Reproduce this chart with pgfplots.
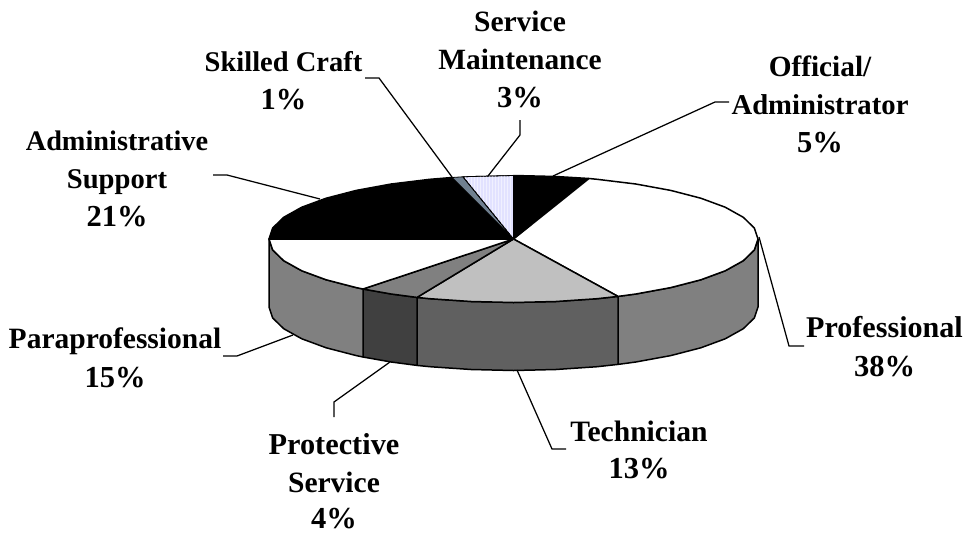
\documentclass[border=0pt]{standalone}
\usepackage{fontspec}
\setmainfont{Liberation Serif}
\usepackage{pgfplots}
\pgfplotsset{compat=1.18}
\usetikzlibrary{patterns}
\definecolor{slate}{RGB}{112,128,144}
\definecolor{lav}{RGB}{226,226,255}
\definecolor{lavlight}{RGB}{240,240,255}
\definecolor{g40}{RGB}{64,64,64}
\definecolor{g60}{RGB}{96,96,96}
\definecolor{g80}{RGB}{128,128,128}
\definecolor{gc0}{RGB}{192,192,192}
\tikzset{
  slice/.style={fill=#1, draw=black, line width=1.5pt, line join=round},
  lead/.style={draw=black, line width=1.25pt, line join=miter},
  lbl/.style={font=\fontsize{#1}{38}\selectfont\bfseries, anchor=base, inner sep=0pt},
  lbl/.default=30.5,
}
\begin{document}
\begin{tikzpicture}
\useasboundingbox (0,0) rectangle (965pt,533pt);
\begin{axis}[
  at={(0,0)}, anchor=south west,
  width=965pt, height=533pt, scale only axis,
  xmin=0, xmax=965, ymin=0, ymax=533,
  y dir=reverse, hide axis, clip=false,
]
% side walls
\addplot[slice=g80] coordinates {
  (758,239) (754.3,250) (743.3,260.7) (725.2,270.8) (700.8,279.8) (670.7,287.6) (635.8,294) (618,296.4)
  (618,364.4) (635.8,362) (670.7,355.6) (700.8,347.8) (725.2,338.8) (743.3,328.7) (754.3,318) (758,307) (758,239)};
\addplot[slice=g60] coordinates {
  (618,296.4) (597.1,298.7) (555.9,301.5) (513.5,302.5) (471.1,301.5) (429.9,298.7) (417,297.4)
  (417,365.4) (429.9,366.7) (471.1,369.5) (513.5,370.5) (555.9,369.5) (597.1,366.7) (618,364.4) (618,296.4)};
\addplot[slice=g40] coordinates {
  (417,297.4) (391.2,294) (363,289) (363,357) (391.2,362) (417,365.4) (417,297.4)};
\addplot[slice=g80] coordinates {
  (363,289) (356.3,287.6) (326.2,279.8) (301.8,270.8) (283.7,260.7) (272.7,250) (269,239)
  (269,307) (272.7,318) (283.7,328.7) (301.8,338.8) (326.2,347.8) (356.3,355.6) (363,357) (363,289)};
% top face
\addplot[slice=black] coordinates {
  (513.5,239) (513.5,175.5) (555.9,176.5) (589,178.5) (513.5,239)};
\addplot[slice=white] coordinates {
  (513.5,239) (589,178.5) (597.1,179.3) (635.8,184) (670.7,190.4) (700.8,198.2) (725.2,207.2) (743.3,217.3) (754.3,228)
  (758,239) (754.3,250) (743.3,260.7) (725.2,270.8) (700.8,279.8) (670.7,287.6) (635.8,294) (618,296.4) (513.5,239)};
\addplot[slice=gc0] coordinates {
  (513.5,239) (618,296.4) (597.1,298.7) (555.9,301.5) (513.5,302.5) (471.1,301.5) (429.9,298.7) (417,297.4) (513.5,239)};
\addplot[slice=g80] coordinates {
  (513.5,239) (417,297.4) (391.2,294) (363,289) (513.5,239)};
\addplot[slice=white] coordinates {
  (513.5,239) (363,289) (356.3,287.6) (326.2,279.8) (301.8,270.8) (283.7,260.7) (272.7,250) (269,239) (513.5,239)};
\addplot[slice=black] coordinates {
  (513.5,239) (269,239) (272.7,228) (283.7,217.3) (301.8,207.2) (326.2,198.2) (356.3,190.4) (391.2,184) (429.9,179.3) (452,177.5) (513.5,239)};
\addplot[slice=slate, line width=0.8pt] coordinates {
  (513.5,239) (452,177.5) (463,176.8) (513.5,239)};
\addplot[slice=lav, line width=0.8pt, postaction={pattern=vertical lines, pattern color=lavlight}] coordinates {
  (513.5,239) (463,176.8) (471.1,176.5) (513.5,175.5) (513.5,239)};
% leader lines
\addplot[lead] coordinates {(553,176) (715,102) (729,102)};
\addplot[lead] coordinates {(488,176) (520,135) (520,120)};
\addplot[lead] coordinates {(452,177) (379,78) (365,78)};
\addplot[lead] coordinates {(320,199) (227,175) (213,175)};
\addplot[lead] coordinates {(293,335) (237,356) (223,356)};
\addplot[lead] coordinates {(390,362) (334,402) (334,417)};
\addplot[lead] coordinates {(517,370) (552,449) (566,449)};
\addplot[lead] coordinates {(759,237) (789,346) (804,346)};
% labels
\node[lbl=29.3] at (axis cs:820,76) {Official/};
\node[lbl=28.7] at (axis cs:820,114) {Administrator};
\node[lbl] at (axis cs:820,152) {5\%};
\node[lbl=29.5] at (axis cs:520,31) {Service};
\node[lbl=29.4] at (axis cs:520,69) {Maintenance};
\node[lbl] at (axis cs:520,107) {3\%};
\node[lbl=28.5] at (axis cs:283.5,71) {Skilled Craft};
\node[lbl] at (axis cs:283.5,109) {1\%};
\node[lbl=28.3] at (axis cs:117,150) {Administrative};
\node[lbl=28.6] at (axis cs:117,188) {Support};
\node[lbl] at (axis cs:117,226) {21\%};
\node[lbl=30.1] at (axis cs:884.5,337) {Professional};
\node[lbl] at (axis cs:884.5,376) {38\%};
\node[lbl=29.6] at (axis cs:639,441) {Technician};
\node[lbl] at (axis cs:639,478) {13\%};
\node[lbl=29.5] at (axis cs:115,348) {Paraprofessional};
\node[lbl] at (axis cs:115,387) {15\%};
\node[lbl=30.3] at (axis cs:334,454) {Protective};
\node[lbl=29.5] at (axis cs:334,492) {Service};
\node[lbl] at (axis cs:334,528.5) {4\%};
\end{axis}
\end{tikzpicture}
\end{document}
